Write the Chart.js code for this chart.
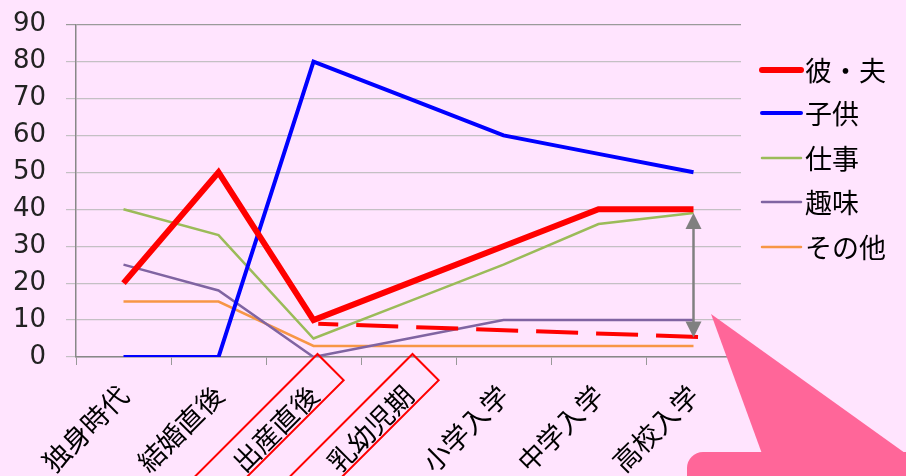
<!DOCTYPE html>
<html><head><meta charset="utf-8">
<script src="https://cdn.jsdelivr.net/npm/chart.js@4"></script>
<style>
html,body{margin:0;padding:0;background:#FFE4FE;overflow:hidden;}
#wrap{width:906px;height:476px;position:relative;overflow:hidden;}
#inner{position:absolute;left:0;top:-11px;width:906px;height:487px;}
</style></head>
<body><div id="wrap"><div id="inner"><canvas id="c"></canvas></div></div>
<script>
const categories = ['独身時代','結婚直後','出産直後','乳幼児期','小学入学','中学入学','高校入学'];
const husband = [20, 50, 10, 20, 30, 40, 40];
const children = [0, 0, 80, 70, 60, 55, 50];
const work = [40, 33, 5, 15, 25, 36, 39];
const hobby = [25, 18, 0, 5, 10, 10, 10];
const others = [15, 15, 3, 3, 3, 3, 3];
const seriesLabels = ['彼・夫','子供','仕事','趣味','その他'];
const yTicks = {min:0, max:90, step:10};
// dashed trend annotation: [category index, value]
const trendStart = [2.05, 9];
const trendEnd = [6.2, 5.3];
// double arrow at 高校入学 between values
const arrowIndex = 6, arrowFrom = 39, arrowTo = 5.3;
const boxedCategories = [2, 3];

const colors = ['#FF0000','#0000FF','#9BBB59','#8064A2','#F79646'];
const widths = [6, 4, 2.5, 2.5, 2.5];
const dataSets = [husband, children, work, hobby, others];

const JP = '"Noto Sans CJK JP", sans-serif';
const OFF = 11; // canvas shifted up by this many px

const overlay = {
  id:'overlay',
  afterDatasetsDraw(chart){
    const ctx = chart.ctx, xs = chart.scales.x, ys = chart.scales.y;
    const xAt = v => {
      const p0 = xs.getPixelForValue(0), p1 = xs.getPixelForValue(1);
      return p0 + (p1-p0)*v;
    };
    ctx.save();
    // dashed trend
    ctx.strokeStyle = '#FF0000'; ctx.lineWidth = 4; ctx.setLineDash([42,18]); ctx.lineDashOffset = 22;
    ctx.beginPath();
    ctx.moveTo(xAt(trendStart[0]), ys.getPixelForValue(trendStart[1]));
    ctx.lineTo(xAt(trendEnd[0]), ys.getPixelForValue(trendEnd[1]));
    ctx.stroke();
    ctx.setLineDash([]);
    // double arrow
    const ax = xs.getPixelForValue(arrowIndex);
    const ay1 = ys.getPixelForValue(arrowFrom), ay2 = ys.getPixelForValue(arrowTo);
    ctx.strokeStyle = '#808080'; ctx.fillStyle = '#808080'; ctx.lineWidth = 2.5;
    ctx.beginPath(); ctx.moveTo(ax, ay1+12); ctx.lineTo(ax, ay2-12); ctx.stroke();
    ctx.beginPath(); ctx.moveTo(ax, ay1); ctx.lineTo(ax-8, ay1+16); ctx.lineTo(ax+8, ay1+16); ctx.closePath(); ctx.fill();
    ctx.beginPath(); ctx.moveTo(ax, ay2); ctx.lineTo(ax-8, ay2-16); ctx.lineTo(ax+8, ay2-16); ctx.closePath(); ctx.fill();
    // red boxes around rotated labels
    ctx.strokeStyle = '#FF0000'; ctx.lineWidth = 2;
    boxedCategories.forEach(i => {
      const cx = xs.getPixelForValue(i);
      ctx.save();
      ctx.translate(cx+4, xs.top - 3);
      ctx.rotate(-Math.PI/4);
      ctx.strokeRect(-185, 0, 185, 37);
      ctx.restore();
    });
    // callout
    ctx.translate(0, OFF);
    ctx.fillStyle = '#FF6699';
    ctx.beginPath(); ctx.moveTo(711, 314); ctx.lineTo(765, 462); ctx.lineTo(912, 458); ctx.closePath(); ctx.fill();
    ctx.beginPath(); ctx.roundRect(687, 452, 260, 60, 16); ctx.fill();
    // legend
    ctx.font = '27px ' + JP; ctx.textBaseline = 'middle'; ctx.fillStyle = '#000';
    const rows = [70, 113, 158, 202, 247];
    seriesLabels.forEach((l, i) => {
      ctx.strokeStyle = colors[i]; ctx.lineWidth = widths[i]; ctx.lineCap = 'round';
      ctx.beginPath(); ctx.moveTo(762, rows[i]); ctx.lineTo(801, rows[i]); ctx.stroke();
      ctx.fillStyle = '#000';
      ctx.fillText(l, 805, rows[i] + 1);
    });
    ctx.restore();
  }
};

new Chart(document.getElementById('c'), {
  type:'line',
  data:{
    labels: categories,
    datasets: dataSets.map((d,i)=>({
      label: seriesLabels[i], data: d, borderColor: colors[i], backgroundColor: colors[i],
      borderWidth: widths[i], pointRadius: 0, tension: 0, fill:false,
      borderJoinStyle:'miter', order: i
    }))
  },
  options:{
    responsive:true, maintainAspectRatio:false, animation:false,
    layout:{padding:{top:0, right:165, left:6, bottom:0}},
    plugins:{legend:{display:false}, tooltip:{enabled:false}},
    scales:{
      x:{
        type:'category', offset:true,
        grid:{drawOnChartArea:false, tickLength:8, color:'#999', offset:true},
        border:{color:'#888', width:1.5},
        ticks:{font:{family:'"Noto Sans CJK JP"', size:27}, color:'#000', minRotation:45, maxRotation:45, padding:14},
        afterFit(s){ s.height = 119; }
      },
      y:{
        min:yTicks.min, max:yTicks.max,
        grid:{color: c => c.tick && c.tick.value === 90 ? '#9A9A9A' : '#C4C0C4', tickLength:10, lineWidth:1.2},
        border:{color:'#888', width:1.5},
        ticks:{stepSize:yTicks.step, font:{family:'"DejaVu Sans"', size:26}, color:'#222', padding:20},
        afterFit(s){ s.width = 70; }
      }
    }
  },
  plugins:[overlay]
});
</script></body></html>
